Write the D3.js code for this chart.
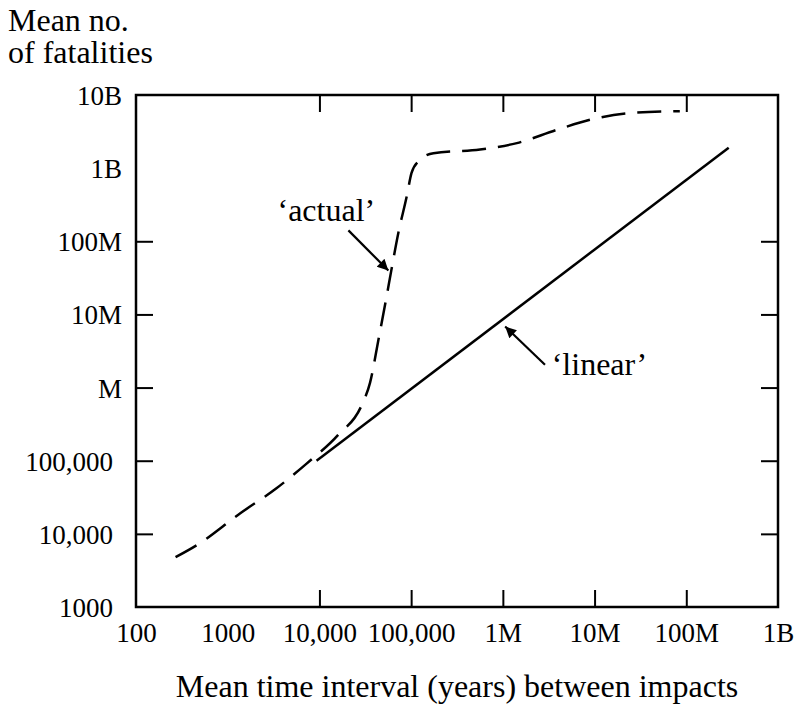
<!DOCTYPE html>
<html>
<head>
<meta charset="utf-8">
<script src="https://cdn.jsdelivr.net/npm/d3@7"></script>
<style>
  body { margin: 0; background: #fff; }
  svg text { font-family: "Liberation Serif", "Times New Roman", serif; fill: #000; }
</style>
</head>
<body>
<div id="chart"></div>
<script>
// Tick values and labels
const xTicks = [1e2, 1e3, 1e4, 1e5, 1e6, 1e7, 1e8, 1e9];
const xTickLabels = ["100", "1000", "10,000", "100,000", "1M", "10M", "100M", "1B"];
const yTicks = [1e3, 1e4, 1e5, 1e6, 1e7, 1e8, 1e9, 1e10];
const yTickLabels = ["1000", "10,000", "100,000", "M", "10M", "100M", "1B", "10B"];

// 'linear' series: [years, fatalities]
const linearSeries = [[9300, 1.0e5], [2.9e8, 1.9e9]];

// 'actual' series: [years, fatalities]
const actualSeries = [
  [270, 4800], [460, 7000], [1360, 19000], [3400, 42000], [7300, 92000],
  [16000, 2.25e5], [29000, 5.8e5], [35600, 1.16e6], [44000, 4.5e6],
  [54000, 1.76e7], [61000, 4.1e7], [72500, 1.3e8], [89500, 4.1e8],
  [101000, 8.6e8], [120000, 1.24e9], [175000, 1.6e9], [564000, 1.8e9],
  [1.42e6, 2.2e9], [3.9e6, 3.35e9], [9.7e6, 4.7e9], [2.65e7, 5.7e9], [8.5e7, 6.0e9]
];

// Annotations (data coordinates): label anchor, arrow tail, arrow tip
const annotations = [
  { text: "\u2018actual\u2019", anchor: "middle", at: [11900, 1.87e8], tail: [20700, 1.41e8], tip: [56400, 3.98e7] },
  { text: "\u2018linear\u2019", anchor: "start", at: [3.41e6, 1.49e6], tail: [2.88e6, 2.05e6], tip: [1.06e6, 6.83e6] }
];

const width = 798, height = 704;
const margin = { top: 95, right: 20, bottom: 97, left: 136 };
const tickLen = 17;

const svg = d3.select("#chart").append("svg")
    .attr("width", width)
    .attr("height", height);

svg.append("defs").append("marker")
    .attr("id", "arrow")
    .attr("viewBox", "0 0 10 10")
    .attr("refX", 10).attr("refY", 5)
    .attr("markerUnits", "userSpaceOnUse")
    .attr("markerWidth", 15).attr("markerHeight", 11)
    .attr("orient", "auto")
    .append("path")
    .attr("d", "M0,0 L10,5 L0,10 Z")
    .attr("fill", "#000");

const x = d3.scaleLog().domain([1e2, 1e9]).range([margin.left, width - margin.right]);
const y = d3.scaleLog().domain([1e3, 1e10]).range([height - margin.bottom, margin.top]);

const x0 = x.range()[0], x1 = x.range()[1];
const y0 = y.range()[0], y1 = y.range()[1];

// Bottom axis (ticks pointing inward)
const bottomAxis = svg.append("g")
    .attr("transform", `translate(0,${y0})`)
    .call(d3.axisBottom(x).tickValues(xTicks)
        .tickFormat((d, i) => xTickLabels[i])
        .tickSize(-tickLen).tickSizeOuter(0));
bottomAxis.select(".domain").remove();
bottomAxis.selectAll("text").attr("y", 35).attr("dy", null).attr("font-size", 27);

// Top axis ticks
const topAxis = svg.append("g")
    .attr("transform", `translate(0,${y1})`)
    .call(d3.axisTop(x).tickValues(xTicks).tickFormat("").tickSize(-tickLen).tickSizeOuter(0));
topAxis.select(".domain").remove();

// Left axis
const leftAxis = svg.append("g")
    .attr("transform", `translate(${x0},0)`)
    .call(d3.axisLeft(y).tickValues(yTicks)
        .tickFormat((d, i) => yTickLabels[i])
        .tickSize(-tickLen).tickSizeOuter(0));
leftAxis.select(".domain").remove();
leftAxis.selectAll("text")
    .attr("x", (d, i) => /\d$/.test(yTickLabels[i]) ? -23 : -14)
    .attr("dy", "0.35em")
    .attr("font-size", 27);

// Right axis ticks
const rightAxis = svg.append("g")
    .attr("transform", `translate(${x1},0)`)
    .call(d3.axisRight(y).tickValues(yTicks).tickFormat("").tickSize(-tickLen).tickSizeOuter(0));
rightAxis.select(".domain").remove();

svg.selectAll(".tick line").attr("stroke", "#000").attr("stroke-width", 2);
// hide ticks sitting on the frame corners
svg.selectAll(".tick").filter(d => d === 1e2 || d === 1e9 || d === 1e3 || d === 1e10)
    .select("line").remove();
svg.selectAll(".tick text").attr("fill", "#000");

// Frame
svg.append("rect")
    .attr("x", x0).attr("y", y1)
    .attr("width", x1 - x0).attr("height", y0 - y1)
    .attr("fill", "none")
    .attr("stroke", "#000")
    .attr("stroke-width", 2.5);

// Lines
const line = d3.line()
    .x(d => x(d[0]))
    .y(d => y(d[1]))
    .curve(d3.curveMonotoneX);

svg.append("path")
    .datum(linearSeries)
    .attr("d", line)
    .attr("fill", "none")
    .attr("stroke", "#000")
    .attr("stroke-width", 2.5);

svg.append("path")
    .datum(actualSeries)
    .attr("d", line)
    .attr("fill", "none")
    .attr("stroke", "#000")
    .attr("stroke-width", 2.5)
    .attr("stroke-dasharray", "24,12");

// Annotations
annotations.forEach(a => {
    svg.append("line")
        .attr("x1", x(a.tail[0])).attr("y1", y(a.tail[1]))
        .attr("x2", x(a.tip[0])).attr("y2", y(a.tip[1]))
        .attr("stroke", "#000")
        .attr("stroke-width", 2.2)
        .attr("marker-end", "url(#arrow)");
    svg.append("text")
        .attr("x", x(a.at[0])).attr("y", y(a.at[1]))
        .attr("text-anchor", a.anchor)
        .attr("font-size", 32)
        .text(a.text);
});

// Axis titles
svg.append("text")
    .attr("x", 8).attr("y", 31)
    .attr("font-size", 32)
    .text("Mean no.");
svg.append("text")
    .attr("x", 8).attr("y", 63)
    .attr("font-size", 32)
    .text("of fatalities");

svg.append("text")
    .attr("x", (x0 + x1) / 2).attr("y", 697)
    .attr("text-anchor", "middle")
    .attr("font-size", 32)
    .text("Mean time interval (years) between impacts");
</script>
</body>
</html>
